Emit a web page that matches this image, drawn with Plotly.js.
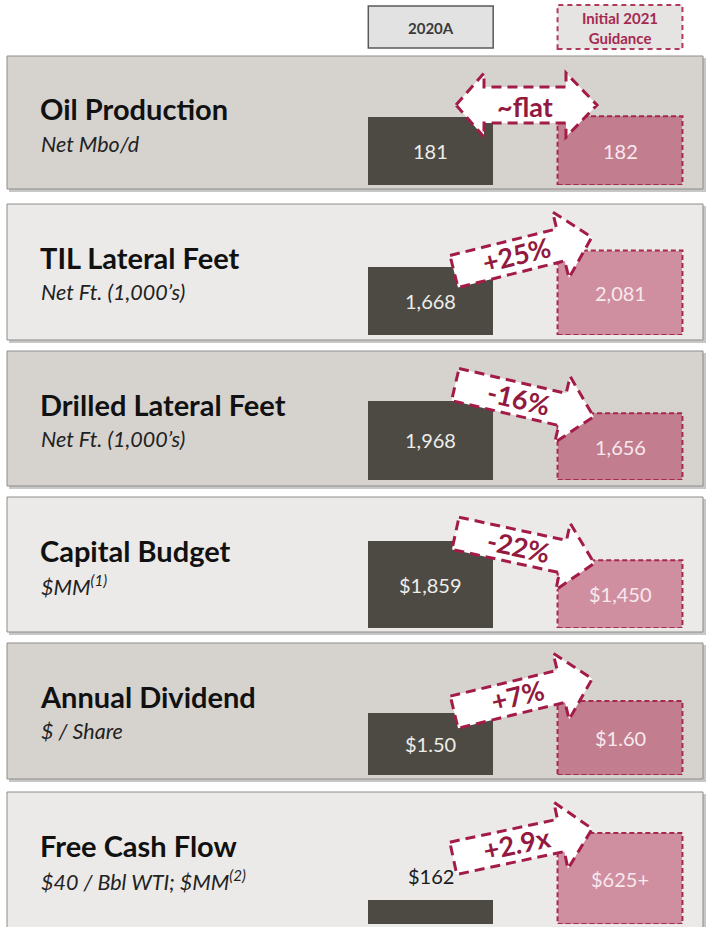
<!DOCTYPE html>
<html><head><meta charset="utf-8">
<script src="https://cdn.plot.ly/plotly-3.0.1.min.js"></script>
<style>html,body{margin:0;padding:0;background:#fff;}#chart{width:706px;height:927px;}</style>
</head><body><div id="chart"></div>
<script>
// ---------- data ----------
const categories = ["2020A", "Initial 2021 Guidance"];
const metrics = ["Oil Production", "TIL Lateral Feet", "Drilled Lateral Feet", "Capital Budget", "Annual Dividend", "Free Cash Flow"];
const units = ["Net Mbo/d", "Net Ft. (1,000’s)", "Net Ft. (1,000’s)", "$MM<sup>(1)</sup>", "$ / Share", "$40 / Bbl WTI; $MM<sup>(2)</sup>"];
const actual2020 = [181, 1668, 1968, 1859, 1.50, 162];
const guidance2021 = [182, 2081, 1656, 1450, 1.60, 625];
const actualLabels = ["181", "1,668", "1,968", "$1,859", "$1.50", "$162"];
const guidanceLabels = ["182", "2,081", "1,656", "$1,450", "$1.60", "$625+"];
const changeLabels = ["~flat", "+25%", "-16%", "-22%", "+7%", "+2.9x"];

// ---------- layout geometry (pixels) ----------
const W = 706, H = 927;
const px = x => x / W;
const py = y => 1 - y / H;
const slot = 189.25, c0 = 430.75;
const xr = [-c0 / slot, (W - c0) / slot];
const barW = 0.66;
const FONT = "Lato, 'Open Sans', sans-serif";

const panelTop = [56, 204, 351, 497, 643, 792];
const panelBot = [189, 340, 486, 632, 779, 945];
const panelFill = ['#d6d3cf', '#ebeae8', '#d6d3cf', '#ebeae8', '#d6d3cf', '#ebeae8'];
const pinkFill = ['#c27d8f', '#cf8fa0', '#c27d8f', '#cf8fa0', '#c27d8f', '#cf8fa0'];
const barBase = [185, 335, 480, 628, 775, 924];
const pxPerUnit = [0.3773, 0.0406, 0.0403, 0.0468, 120, 0.1456];
const axisLo = [0, 0, 0, 0, 0.983, 0];
const arrowGeo = [
  null,
  {ox: 454, oy: 271.5, ang: -14},
  {ox: 455.3, oy: 384.5, ang: 13.1},
  {ox: 455.5, oy: 533.3, ang: 12.2},
  {ox: 454.2, oy: 712.2, ang: -13.6},
  {ox: 453.3, oy: 858.3, ang: -12}
];
const DARK = '#4d4a44';
const RED = '#a31c48';
const TXTRED = '#931a3f';
const LBL_DARK = '#efedea', LBL_PINK = '#f8e9ed';

const D = 120;
const data = [];
const shapes = [];
const annotations = [];
const layout = {
  width: W, height: H,
  margin: {l: 0, r: 0, t: 0, b: 0, pad: 0},
  paper_bgcolor: '#ffffff', plot_bgcolor: 'rgba(0,0,0,0)',
  showlegend: false, bargap: 0,
  xaxis: {type: 'category', range: xr, visible: false, fixedrange: true, domain: [0, 1]},
  font: {family: FONT}
};

function pathFrom(points) {
  return 'M ' + points.map(p => px(p[0]).toFixed(5) + ',' + py(p[1]).toFixed(5)).join(' L ') + ' Z';
}

function barLabel(yRef, cat, y, text, color) {
  annotations.push({xref: 'x', yref: yRef, x: cat, y: y, showarrow: false,
    xanchor: 'center', yanchor: 'middle', text: text,
    font: {family: FONT, size: 20, color: color}});
}

for (let i = 0; i < 6; i++) {
  const yName = i === 0 ? 'yaxis' : 'yaxis' + (i + 1);
  const yRef = i === 0 ? 'y' : 'y' + (i + 1);
  const lo = axisLo[i];
  layout[yName] = {
    domain: [(H - barBase[i]) / H, (H - (barBase[i] - D)) / H],
    range: [lo, lo + D / pxPerUnit[i]],
    visible: false, fixedrange: true, anchor: 'x'
  };
  // panel shadow + background
  shapes.push({type: 'rect', xref: 'paper', yref: 'paper', layer: 'below',
    x0: px(9), x1: px(706), y0: py(panelTop[i] + 2), y1: py(panelBot[i] + 3),
    fillcolor: 'rgba(0,0,0,0.22)', line: {width: 0}});
  shapes.push({type: 'rect', xref: 'paper', yref: 'paper', layer: 'below',
    x0: px(7), x1: px(703), y0: py(panelTop[i]), y1: py(panelBot[i]),
    fillcolor: panelFill[i], line: {color: '#8e8c8a', width: 1}});

  data.push({
    type: 'bar', x: categories, y: [actual2020[i], guidance2021[i]],
    xaxis: 'x', yaxis: yRef, width: barW,
    marker: {color: [DARK, pinkFill[i]], line: {width: 0}},
    hoverinfo: 'skip', showlegend: false
  });
  // value labels, centred on the visible part of each bar
  if (i === 5) {
    annotations.push({xref: 'x', yref: yRef, x: categories[0], y: actual2020[i],
      xanchor: 'center', yanchor: 'bottom', yshift: 10, showarrow: false,
      text: actualLabels[i], font: {family: FONT, size: 20, color: '#1a1a1a'}});
  } else {
    barLabel(yRef, categories[0], (lo + actual2020[i]) / 2, actualLabels[i], LBL_DARK);
  }
  barLabel(yRef, categories[1], (lo + guidance2021[i]) / 2, guidanceLabels[i], LBL_PINK);

  // dashed outline of guidance bar
  shapes.push({type: 'rect', xref: 'x', yref: yRef,
    x0: 1 - barW / 2, x1: 1 + barW / 2, y0: lo, y1: guidance2021[i],
    line: {color: '#a5294f', width: 2, dash: '5px,3px'}, fillcolor: 'rgba(0,0,0,0)'});

  // titles
  annotations.push({xref: 'paper', yref: 'paper', x: px(38), y: py(panelTop[i] + 53),
    xanchor: 'left', yanchor: 'middle', showarrow: false,
    text: '<b>' + metrics[i] + '</b>', font: {family: FONT, size: 29, color: '#111111'}});
  annotations.push({xref: 'paper', yref: 'paper', x: px(39), y: py(panelTop[i] + 88),
    xanchor: 'left', yanchor: 'middle', showarrow: false,
    text: '<i>' + units[i] + '</i>', font: {family: FONT, size: 21.5, color: '#222222'}});

  // arrows
  let textX, textY, textAng;
  if (i === 0) {
    const cy = 105, w = 18, Wd = 32;
    const pts = [[456, cy], [484, cy - Wd], [484, cy - w], [566, cy - w], [566, cy - Wd], [597, cy],
      [566, cy + Wd], [566, cy + w], [484, cy + w], [484, cy + Wd]];
    shapes.push({type: 'path', xref: 'paper', yref: 'paper', path: pathFrom(pts),
      fillcolor: '#ffffff', line: {color: RED, width: 3, dash: '10px,6px'}});
    textX = 525; textY = 106; textAng = 0;
  } else {
    const g = arrowGeo[i];
    const L = 110, h = 32, w = 16.5, Wd = 34;
    const t = g.ang * Math.PI / 180, c = Math.cos(t), s = Math.sin(t);
    const loc = [[0, -w], [L, -w], [L, -Wd], [L + h, 0], [L, Wd], [L, w], [0, w]];
    const pts = loc.map(p => [g.ox + p[0] * c - p[1] * s, g.oy + p[0] * s + p[1] * c]);
    shapes.push({type: 'path', xref: 'paper', yref: 'paper', path: pathFrom(pts),
      fillcolor: '#ffffff', line: {color: RED, width: 3, dash: '10px,6px'}});
    const a = 65, b = -1;
    textX = g.ox + a * c - b * s; textY = g.oy + a * s + b * c; textAng = g.ang;
  }
  annotations.push({xref: 'paper', yref: 'paper', x: px(textX), y: py(textY),
    xanchor: 'center', yanchor: 'middle', showarrow: false, textangle: textAng,
    text: '<b>' + changeLabels[i] + '</b>', font: {family: FONT, size: 27, color: TXTRED}});
}

// column header boxes
shapes.push({type: 'rect', xref: 'x', yref: 'paper', x0: -barW / 2, x1: barW / 2,
  y0: py(48), y1: py(6), fillcolor: '#e2e2e2', line: {color: '#5a5a5a', width: 1.5}});
shapes.push({type: 'rect', xref: 'x', yref: 'paper', x0: 1 - barW / 2, x1: 1 + barW / 2,
  y0: py(49), y1: py(5), fillcolor: '#e6e3e3', line: {color: '#b0395c', width: 2, dash: '5px,4px'}});
annotations.push({xref: 'x', yref: 'paper', x: categories[0], y: py(28),
  xanchor: 'center', yanchor: 'middle', showarrow: false,
  text: '<b>' + categories[0] + '</b>', font: {family: FONT, size: 15, color: '#3a3a3a'}});
annotations.push({xref: 'x', yref: 'paper', x: categories[1], y: py(28),
  xanchor: 'center', yanchor: 'middle', showarrow: false,
  text: '<b>' + categories[1].replace(/ (\S+)$/, '<br>$1') + '</b>',
  font: {family: FONT, size: 15, color: '#a52a50'}});

layout.shapes = shapes;
layout.annotations = annotations;
Plotly.newPlot('chart', data, layout, {displayModeBar: false, staticPlot: true});
</script></body></html>
